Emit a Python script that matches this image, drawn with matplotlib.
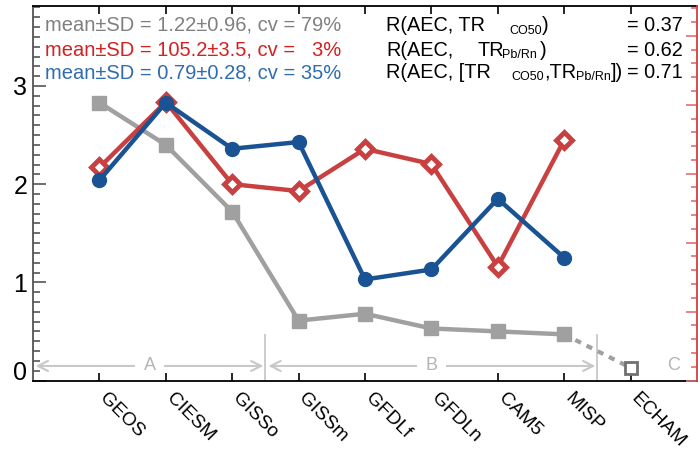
import matplotlib
matplotlib.use("Agg")
import matplotlib.pyplot as plt
from matplotlib.ticker import MultipleLocator, FixedLocator
from matplotlib.transforms import ScaledTranslation

plt.rcParams['font.family'] = ['Liberation Sans', 'DejaVu Sans']

models = ["GEOS", "CIESM", "GISSo", "GISSm", "GFDLf", "GFDLn", "CAM5", "MISP", "ECHAM"]
gray_vals = [2.83, 2.40, 1.72, 0.61, 0.68, 0.53, 0.50, 0.47]
gray_echam = 0.13
red_vals = [105.45, 110.2, 104.24, 103.74, 106.8, 105.7, 98.26, 107.44]
blue_vals = [0.864, 1.199, 1.000, 1.029, 0.436, 0.479, 0.784, 0.530]

stats_lines = ["mean\u00b1SD = 1.22\u00b10.96, cv = 79%",
               "mean\u00b1SD = 105.2\u00b13.5, cv =   3%",
               "mean\u00b1SD = 0.79\u00b10.28, cv = 35%"]
r_values = ["= 0.37", "= 0.62", "= 0.71"]
regions = ["A", "B", "C"]

GRAY = "#A0A0A0"
RED = "#C8403F"
BLUE = "#1A5394"

W, H = 698, 450
fig = plt.figure(figsize=(W / 100, H / 100), dpi=100)
ax = fig.add_axes([33 / W, 1 - 380.5 / H, (697 - 33) / W, (380.5 - 5.5) / H])

x = list(range(len(models)))
n = len(gray_vals)

ax.set_xlim(-1, 9)
ax.set_ylim(0, 3.82)

# region markers
for xv in (2.5, 7.5):
    ax.plot([xv, xv], [0, 0.46], color="#C8C8C8", lw=1.3, zorder=1)
ax.annotate("", xy=(-0.96, 0.148), xytext=(2.47, 0.148),
            arrowprops=dict(arrowstyle="<->", color="#C8C8C8", lw=1.5, mutation_scale=18,
                            shrinkA=0, shrinkB=0), zorder=1)
ax.annotate("", xy=(2.545, 0.148), xytext=(7.47, 0.148),
            arrowprops=dict(arrowstyle="<->", color="#C8C8C8", lw=1.5, mutation_scale=18,
                            shrinkA=0, shrinkB=0), zorder=1)
for lab, xc in zip(regions, (0.755, 5.0, 8.64)):
    ax.text(xc, 0.148, lab, color="#B4B4B4", fontsize=13, ha="center", va="center",
            bbox=dict(facecolor="white", edgecolor="none", pad=6), zorder=2)

# gray series
ax.plot(x[:n], gray_vals, color=GRAY, lw=3.2, marker="s", ms=10, mfc=GRAY, mec=GRAY, zorder=3)
ax.plot([x[n - 1], x[n]], [gray_vals[-1], gray_echam], color=GRAY, lw=3, ls=(0, (1.5, 1.5)), zorder=3)
ax.plot([x[n]], [gray_echam], marker="s", ms=9, mfc="white", mec="#707070", mew=2, zorder=4)

ax.set_xticks(x)
ax.set_xticklabels(models, rotation=-45, ha="left", va="top", rotation_mode="anchor", fontsize=13.8)
ax.tick_params(axis="x", direction="in", top=True, length=6, width=1.2, color="black", pad=4)
off = ScaledTranslation(0.09, -0.035, fig.dpi_scale_trans)
for lbl in ax.get_xticklabels():
    lbl.set_transform(lbl.get_transform() + off)
ax.yaxis.set_major_locator(FixedLocator([0, 1, 2, 3]))
ax.yaxis.set_minor_locator(MultipleLocator(0.1))
ax.tick_params(axis="y", which="major", direction="in", length=9, width=1.2, color="#555555",
               labelsize=18, pad=4)
ax.tick_params(axis="y", which="minor", direction="in", length=5, width=1.2, color="#555555")
ax.spines["left"].set_color("#555555")
ax.spines["left"].set_linewidth(1.3)
ax.spines["right"].set_visible(False)
for s in ("top", "bottom"):
    ax.spines[s].set_linewidth(1.3)
lab0 = ax.get_yticklabels()[0]
lab0.set_verticalalignment("baseline")

# red series (right axis)
axr = ax.twinx()
axr.set_ylim(90, 90 + 7.12 * 3.82)
axr.plot(x[:n], red_vals, color=RED, lw=3.2, marker="D", ms=8, mfc="white", mec=RED, mew=3.5, zorder=3)
axr.yaxis.set_major_locator(MultipleLocator(5))
axr.yaxis.set_minor_locator(MultipleLocator(1))
axr.tick_params(axis="y", which="major", direction="in", length=8, width=1.2, color="#E07070", labelright=False)
axr.tick_params(axis="y", which="minor", direction="in", length=4, width=1.2, color="#E07070")
axr.spines["right"].set_color("#D04040")
axr.spines["right"].set_linewidth(1.3)
for s in ("left", "top", "bottom"):
    axr.spines[s].set_visible(False)

# blue series (hidden third axis)
axb = ax.twinx()
axb.set_ylim(0, 0.4236 * 3.82)
axb.plot(x[:n], blue_vals, color=BLUE, lw=3.2, marker="o", ms=10, mfc=BLUE, mec=BLUE, zorder=3)
axb.set_yticks([])
for s in axb.spines.values():
    s.set_visible(False)

# text annotations (figure pixel positions)
def fp(px, py):
    return px / W, 1 - py / H

stat_colors = ["#808080", "#D42020", "#2F6DB0"]
for txt, col, yb in zip(stats_lines, stat_colors, (30.7, 55, 78.5)):
    fig.text(*fp(45, yb), txt, color=col, fontsize=14.5, ha="left", va="baseline")

main_fs = 14.3
sub_fs = 9
pieces = [
    [(386, "R(AEC, TR", False), (509, "CO50", True), (542, ")", False)],
    [(386, "R(AEC,", False), (478, "TR", False), (502, "Pb/Rn", True), (540, ")", False)],
    [(386, "R(AEC, [TR", False), (511, "CO50", True), (544, ",TR", False), (576, "Pb/Rn", True), (611, "])", False)],
]
for line, yb, rv in zip(pieces, (31, 55.5, 78), r_values):
    for px, t, sub in line:
        if sub:
            fig.text(*fp(px, yb + 2.5), t, color="black", fontsize=sub_fs, ha="left", va="baseline")
        else:
            fig.text(*fp(px, yb), t, color="black", fontsize=main_fs, ha="left", va="baseline")
    fig.text(*fp(683, yb), rv, color="black", fontsize=main_fs, ha="right", va="baseline")

fig.savefig("out.png", dpi=100)
